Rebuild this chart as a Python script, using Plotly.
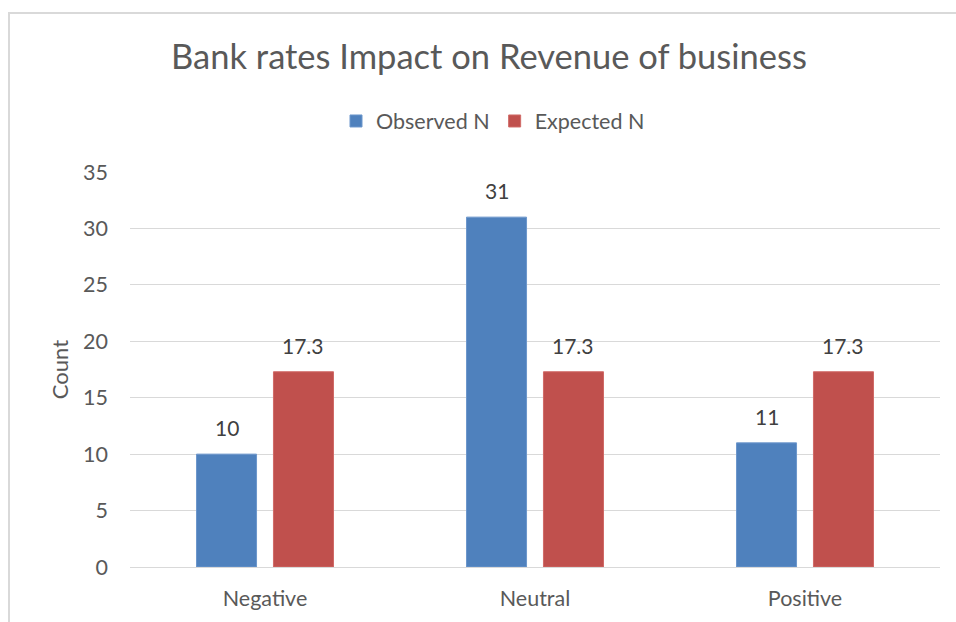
import plotly.graph_objects as go

categories = ["Negative", "Neutral", "Positive"]
observed = [10, 31, 11]
expected = [17.3, 17.3, 17.3]
series_names = ["Observed N", "Expected N"]
y_ticks = [0, 5, 10, 15, 20, 25, 30, 35]

FONT = "Lato, 'Open Sans', sans-serif"
GRAY = "#595959"

W, H = 956, 622
ml, mr, mt, mb = 130, 16, 172, 55
pw, ph = W - ml - mr, H - mt - mb
BARGAP = 0.43

fig = go.Figure()
fig.add_trace(go.Bar(
    x=categories, y=observed, name=series_names[0],
    marker=dict(color="#4f81bd", line=dict(color="#6d97cc", width=1)),
))
fig.add_trace(go.Bar(
    x=categories, y=expected, name=series_names[1],
    marker=dict(color="#c0504d", line=dict(color="#d06a67", width=1)),
))

# data labels above each bar
slot = (1 - BARGAP) / 2
for s, vals in enumerate([observed, expected]):
    for i, v in enumerate(vals):
        fig.add_annotation(x=i + (s - 0.5) * slot, y=v, xref="x", yref="y",
                           text=f"{v:g}", showarrow=False, yanchor="bottom", yshift=12,
                           font=dict(size=21, color="#404040", family=FONT))

# outer chart border (Excel style)
fig.add_shape(type="rect", xref="paper", yref="paper",
              x0=(9 - ml) / pw, x1=(W + 10 - ml) / pw,
              y0=-(H + 10 - mt - ph) / ph, y1=(H - 13 - mb) / ph,
              line=dict(color="#d9d9d9", width=2), fillcolor="rgba(0,0,0,0)", layer="below")

fig.update_layout(
    width=W, height=H,
    margin=dict(l=ml, r=mr, t=mt, b=mb),
    paper_bgcolor="white", plot_bgcolor="white",
    font=dict(family=FONT, color=GRAY, size=21),
    title=dict(text="Bank rates Impact on Revenue of business", x=489 / W, xanchor="center",
               y=1 - 57 / H, yanchor="middle", font=dict(size=34.5, color=GRAY, family=FONT)),
    legend=dict(orientation="h", x=493 / W, xanchor="center", xref="container",
                y=1 - 121 / H, yref="container",
                yanchor="middle", font=dict(size=21.5, color=GRAY), itemwidth=30,
                traceorder="normal"),
    barmode="group", bargap=BARGAP, bargroupgap=0.22,
    xaxis=dict(showgrid=False, showline=False, ticks="", tickfont=dict(size=21.5, color=GRAY),
               ticklabelstandoff=16),
    yaxis=dict(range=[0, 35], tickvals=y_ticks, showgrid=True, gridcolor="#d9d9d9", gridwidth=1,
               zeroline=True, zerolinecolor="#d9d9d9", zerolinewidth=1, ticks="",
               tickfont=dict(size=21.5, color=GRAY), ticklabelstandoff=21,
               title=dict(text="Count", font=dict(size=22, color=GRAY), standoff=8)),
)

fig.write_html("out.html")
